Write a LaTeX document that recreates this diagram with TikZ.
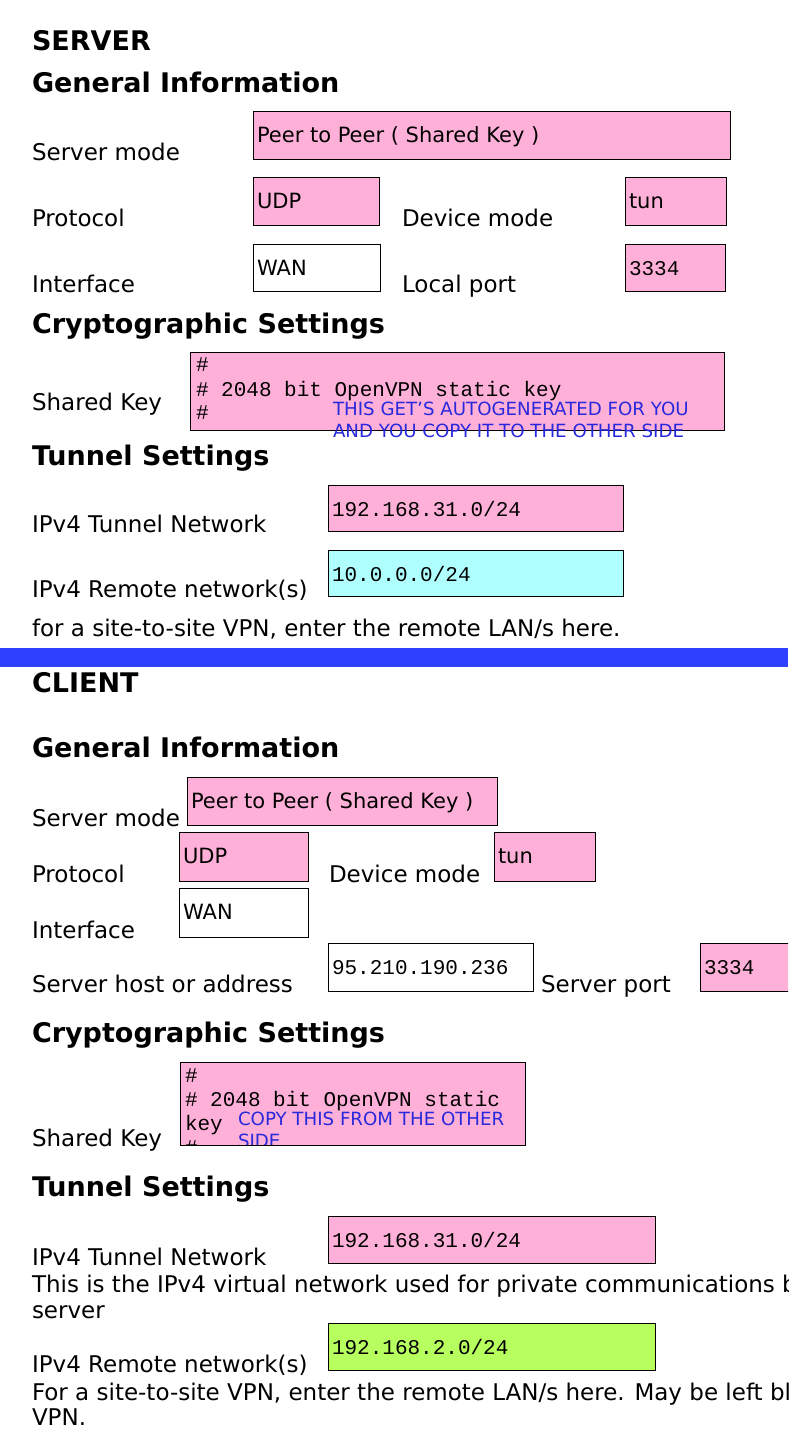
\documentclass[tikz,border=0pt]{standalone}
\usepackage{fontspec}
\setmainfont{DejaVu Sans}
\newfontfamily\monofont{Liberation Mono}
\usetikzlibrary{positioning}
\definecolor{pinkfill}{RGB}{255,176,216}
\definecolor{cyanfill}{RGB}{176,255,255}
\definecolor{greenfill}{RGB}{182,255,94}
\definecolor{barblue}{RGB}{48,64,255}
\definecolor{notetext}{RGB}{40,40,220}
\newcommand{\fld}[7]{% name, x, y, w, h, fill, text
  \node[fieldbox,fill=#6,minimum width=#4pt,minimum height=#5pt] (#1) at (#2,#3) {};
  \node[fieldtext] (#1t) at ([xshift=4pt,yshift=-31pt]#1.north west) {#7};}
\begin{document}
\begin{tikzpicture}[x=1pt,y=-1pt,
  every node/.style={inner sep=0pt,outer sep=0pt},
  title/.style={anchor=base west,font=\fontsize{27}{31}\selectfont\bfseries},
  label/.style={anchor=base west,font=\fontsize{23}{27}\selectfont},
  fieldbox/.style={draw=black,line width=0.9pt,anchor=north west},
  fieldtext/.style={anchor=base west,font=\fontsize{21}{25}\selectfont},
  mono/.style={font=\monofont\fontsize{21}{25}\selectfont},
  note/.style={anchor=base west,text=notetext,font=\fontsize{18.2}{22}\selectfont}]
\useasboundingbox (0,0) rectangle (788,1456);
\clip (0,0) rectangle (788,1456);
% server part
\node[title] (srv) at (32,50) {SERVER};
\node[title] (sgen) at (32,92) {General Information};
\node[label] (smode) at (32,160) {Server mode};
\fld{smodebox}{253}{111}{477}{48}{pinkfill}{Peer to Peer ( Shared Key )}
\node[label] (sproto) at (32,226) {Protocol};
\fld{sprotobox}{253}{177}{126}{48}{pinkfill}{UDP}
\node[label] (sdev) at (402,226) {Device mode};
\fld{sdevbox}{625}{177}{101}{48}{pinkfill}{tun}
\node[label] (siface) at (32,292) {Interface};
\fld{sifacebox}{253}{244}{127}{47}{white}{WAN}
\node[label] (sport) at (402,292) {Local port};
\fld{sportbox}{625}{244}{100}{47}{pinkfill}{\monofont 3334}
\node[title] (scrypt) at (32,333) {Cryptographic Settings};
\node[label] (skey) at (32,410) {Shared Key};
\node[fieldbox,fill=pinkfill,minimum width=534pt,minimum height=78pt] (skeybox) at (190,352) {};
\node[anchor=base west,mono] (skey1) at (196,371) {\#};
\node[anchor=base west,mono] (skey2) at (196,396) {\# 2048 bit OpenVPN static key};
\node[anchor=base west,mono] (skey3) at (196,419) {\#};
\node[note] (snote1) at (333,415) {THIS GET'S AUTOGENERATED FOR YOU};
\node[note] (snote2) at (333,437) {AND YOU COPY IT TO THE OTHER SIDE};
\node[title] (stun) at (32,465) {Tunnel Settings};
\node[label] (snet) at (32,532) {IPv4 Tunnel Network};
\fld{snetbox}{328}{485}{295}{46}{pinkfill}{\monofont 192.168.31.0/24}
\node[label] (sremote) at (32,597) {IPv4 Remote network(s)};
\fld{sremotebox}{328}{550}{295}{46}{cyanfill}{\monofont 10.0.0.0/24}
\node[label] (shint) at (32,636) {for a site-to-site VPN, enter the remote LAN/s here.};
% divider
\fill[barblue] (0,648) rectangle (788,667);
% client part
\node[title] (cli) at (32,692) {CLIENT};
\node[title] (cgen) at (32,757) {General Information};
\node[label] (cmode) at (32,826) {Server mode};
\fld{cmodebox}{187}{777}{310}{48}{pinkfill}{Peer to Peer ( Shared Key )}
\node[label] (cproto) at (32,882) {Protocol};
\fld{cprotobox}{179}{832}{129}{49}{pinkfill}{UDP}
\node[label] (cdev) at (329,882) {Device mode};
\fld{cdevbox}{494}{832}{101}{49}{pinkfill}{tun}
\node[label] (ciface) at (32,938) {Interface};
\fld{cifacebox}{179}{888}{129}{49}{white}{WAN}
\node[label] (chost) at (32,992) {Server host or address};
\fld{chostbox}{328}{943}{205}{48}{white}{\monofont 95.210.190.236}
\node[label] (cport) at (541,992) {Server port};
\fld{cportbox}{700}{943}{120}{48}{pinkfill}{\monofont 3334}
\node[title] (ccrypt) at (32,1042) {Cryptographic Settings};
\node[label] (ckey) at (32,1146) {Shared Key};
\node[fieldbox,fill=pinkfill,minimum width=345pt,minimum height=83pt] (ckeybox) at (180,1062) {};
\begin{scope}
\clip (180,1062) rectangle (525,1145);
\node[anchor=base west,mono] (ckey1) at (185,1082) {\#};
\node[anchor=base west,mono] (ckey2) at (185,1106) {\# 2048 bit OpenVPN static};
\node[anchor=base west,mono] (ckey3) at (185,1130) {key};
\node[anchor=base west,mono] (ckey4) at (185,1154) {\#};
\node[note] (cnote1) at (238,1125) {COPY THIS FROM THE OTHER};
\node[note] (cnote2) at (238,1147) {SIDE};
\end{scope}
\draw[line width=0.9pt] (ckeybox.north west) rectangle (ckeybox.south east);
\node[title] (ctun) at (32,1196) {Tunnel Settings};
\node[label] (cnet) at (32,1265) {IPv4 Tunnel Network};
\fld{cnetbox}{328}{1216}{327}{47}{pinkfill}{\monofont 192.168.31.0/24}
\node[label] (cnethint1) at (32,1292) {This is the IPv4 virtual network used for private communications b};
\node[label] (cnethint2) at (32,1318) {server};
\node[label] (cremote) at (32,1372) {IPv4 Remote network(s)};
\fld{cremotebox}{328}{1323}{327}{47}{greenfill}{\monofont 192.168.2.0/24}
\node[label] (chint1) at (32,1400) {For a site-to-site VPN, enter the remote LAN/s here. May be left bl};
\node[label] (chint2) at (32,1425) {VPN.};
\end{tikzpicture}
\end{document}
